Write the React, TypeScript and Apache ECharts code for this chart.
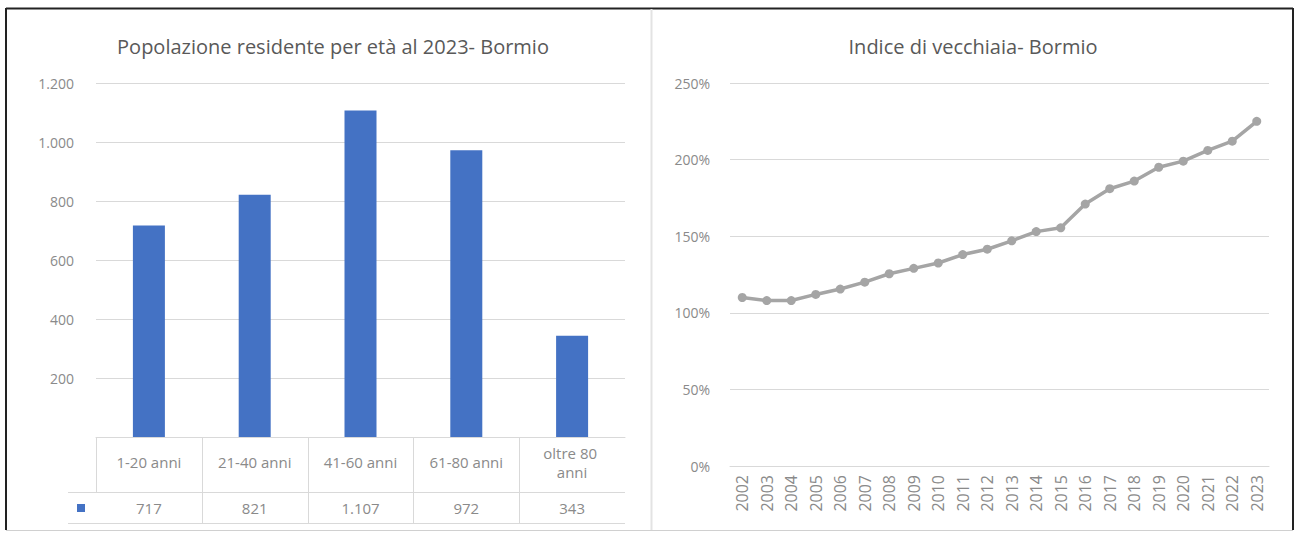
import React, { useEffect, useRef } from "react";
import * as echarts from "echarts";

const ageGroups = ["1-20 anni", "21-40 anni", "41-60 anni", "61-80 anni", "oltre 80 anni"];
const residents = [717, 821, 1107, 972, 343];

const years = [
  "2002", "2003", "2004", "2005", "2006", "2007", "2008", "2009", "2010", "2011", "2012",
  "2013", "2014", "2015", "2016", "2017", "2018", "2019", "2020", "2021", "2022", "2023",
];
const oldAgeIndex = [
  110, 108, 108, 112, 115.5, 120, 125.5, 129, 132.5, 138, 141.5,
  147, 153, 155.5, 171, 181, 186, 195, 199, 206, 212, 225,
];

const leftTitle = "Popolazione residente per età al 2023- Bormio";
const rightTitle = "Indice di vecchiaia- Bormio";

const FONT = "'Open Sans', Lato, sans-serif";
const LABEL = "#8a8a8a";
const GRIDC = "#d9d9d9";
const BLUE = "#4472C4";
const GREY = "#A5A5A5";

const fmt = (n: number) => String(n).replace(/\B(?=(\d{3})+(?!\d))/g, ".");

export default function App() {
  const ref = useRef<HTMLDivElement>(null);
  useEffect(() => {
    if (!ref.current) return;
    const chart = echarts.init(ref.current, null, { renderer: "svg" });
    const option: any = {
      animation: false,
      backgroundColor: "#ffffff",
      textStyle: { fontFamily: FONT },
      title: [
        {
          text: leftTitle,
          left: 328,
          top: 31,
          textAlign: "center",
          textStyle: { fontFamily: FONT, fontSize: 20, fontWeight: "normal", color: "#595959" },
        },
        {
          text: rightTitle,
          left: 968,
          top: 31,
          textAlign: "center",
          textStyle: { fontFamily: FONT, fontSize: 20, fontWeight: "normal", color: "#595959" },
        },
      ],
      grid: [
        { left: 96, right: 1297 - 625, top: 83, bottom: 534 - 437, containLabel: false },
        { left: 730, right: 1297 - 1269, top: 83, bottom: 534 - 466, containLabel: false },
      ],
      xAxis: [
        {
          type: "category",
          gridIndex: 0,
          data: ageGroups,
          axisLine: { show: true, lineStyle: { color: GRIDC } },
          axisTick: { show: false },
          axisLabel: {
            margin: 25,
            verticalAlign: "middle",
            width: 88,
            overflow: "break",
            lineHeight: 19,
            fontSize: 15,
            color: LABEL,
            fontFamily: FONT,
            interval: 0,
          },
        },
        {
          type: "category",
          gridIndex: 0,
          position: "bottom",
          data: residents.map(fmt),
          axisLine: { show: false },
          axisTick: { show: false },
          axisLabel: { margin: 71, verticalAlign: "middle", fontSize: 15, color: LABEL, fontFamily: FONT, interval: 0 },
        },
        {
          type: "category",
          gridIndex: 1,
          data: years,
          axisLine: { show: true, lineStyle: { color: GRIDC } },
          axisTick: { show: false },
          axisLabel: { rotate: 90, margin: 9, fontSize: 16, color: LABEL, fontFamily: FONT, interval: 0 },
        },
      ],
      yAxis: [
        {
          type: "value",
          gridIndex: 0,
          min: 0,
          max: 1200,
          interval: 200,
          axisLine: { show: false },
          axisTick: { show: false },
          splitLine: { lineStyle: { color: GRIDC } },
          axisLabel: {
            margin: 22,
            fontSize: 14,
            color: LABEL,
            fontFamily: FONT,
            formatter: (v: number) => (v === 0 ? "" : fmt(v)),
          },
        },
        {
          type: "value",
          gridIndex: 1,
          min: 0,
          max: 250,
          interval: 50,
          axisLine: { show: false },
          axisTick: { show: false },
          splitLine: { lineStyle: { color: GRIDC } },
          axisLabel: { margin: 20, fontSize: 14, color: LABEL, fontFamily: FONT, formatter: (v: number) => `${v}%` },
        },
      ],
      series: [
        {
          type: "bar",
          xAxisIndex: 0,
          yAxisIndex: 0,
          data: residents,
          barWidth: 32,
          itemStyle: { color: BLUE },
        },
        {
          type: "line",
          xAxisIndex: 2,
          yAxisIndex: 1,
          data: oldAgeIndex,
          symbol: "circle",
          symbolSize: 9,
          lineStyle: { color: GREY, width: 3.5 },
          itemStyle: { color: GREY },
        },
      ],
    };
    chart.setOption(option);

    const c0 = chart.convertToPixel({ xAxisIndex: 0 }, ageGroups[0]) as number;
    const c1 = chart.convertToPixel({ xAxisIndex: 0 }, ageGroups[1]) as number;
    const band = c1 - c0;
    const yZero = chart.convertToPixel({ yAxisIndex: 0 }, 0) as number;
    const left = c0 - band / 2;
    const right = left + band * ageGroups.length;
    const rowSep = yZero + 55;
    const rowEnd = yZero + 86;
    const tableLine = { stroke: GRIDC, lineWidth: 1 };
    const graphics: any[] = [];
    ageGroups.forEach((_, i) => {
      const x = Math.round(left + band * i) + 0.5;
      graphics.push({
        type: "line",
        shape: { x1: x, y1: yZero, x2: x, y2: i === 0 ? rowSep : rowEnd },
        style: tableLine,
        silent: true,
      });
    });
    graphics.push({ type: "line", shape: { x1: 68, y1: rowSep + 0.5, x2: right, y2: rowSep + 0.5 }, style: tableLine });
    graphics.push({ type: "line", shape: { x1: 68, y1: rowEnd + 0.5, x2: right, y2: rowEnd + 0.5 }, style: tableLine });
    graphics.push({
      type: "rect",
      shape: { x: 77, y: yZero + 67, width: 8, height: 8 },
      style: { fill: BLUE },
    });
    // frame
    graphics.push({ type: "line", shape: { x1: 6, y1: 8.5, x2: 1293, y2: 8.5 }, style: { stroke: "#222", lineWidth: 2 } });
    graphics.push({ type: "line", shape: { x1: 6, y1: 8, x2: 6, y2: 530 }, style: { stroke: "#222", lineWidth: 2 } });
    graphics.push({ type: "line", shape: { x1: 1293, y1: 8, x2: 1293, y2: 530 }, style: { stroke: "#222", lineWidth: 2 } });
    graphics.push({ type: "line", shape: { x1: 6, y1: 530.5, x2: 1293, y2: 530.5 }, style: { stroke: "#d0d0d0", lineWidth: 1 } });
    graphics.push({ type: "line", shape: { x1: 651.5, y1: 9, x2: 651.5, y2: 530 }, style: { stroke: "#e3e3e3", lineWidth: 2 } });

    chart.setOption({ graphic: graphics });
    return () => chart.dispose();
  }, []);
  return (
    <div
      ref={ref}
      style={{ position: "fixed", left: 0, top: 0, width: 1297, height: 534, background: "#fff" }}
    />
  );
}
